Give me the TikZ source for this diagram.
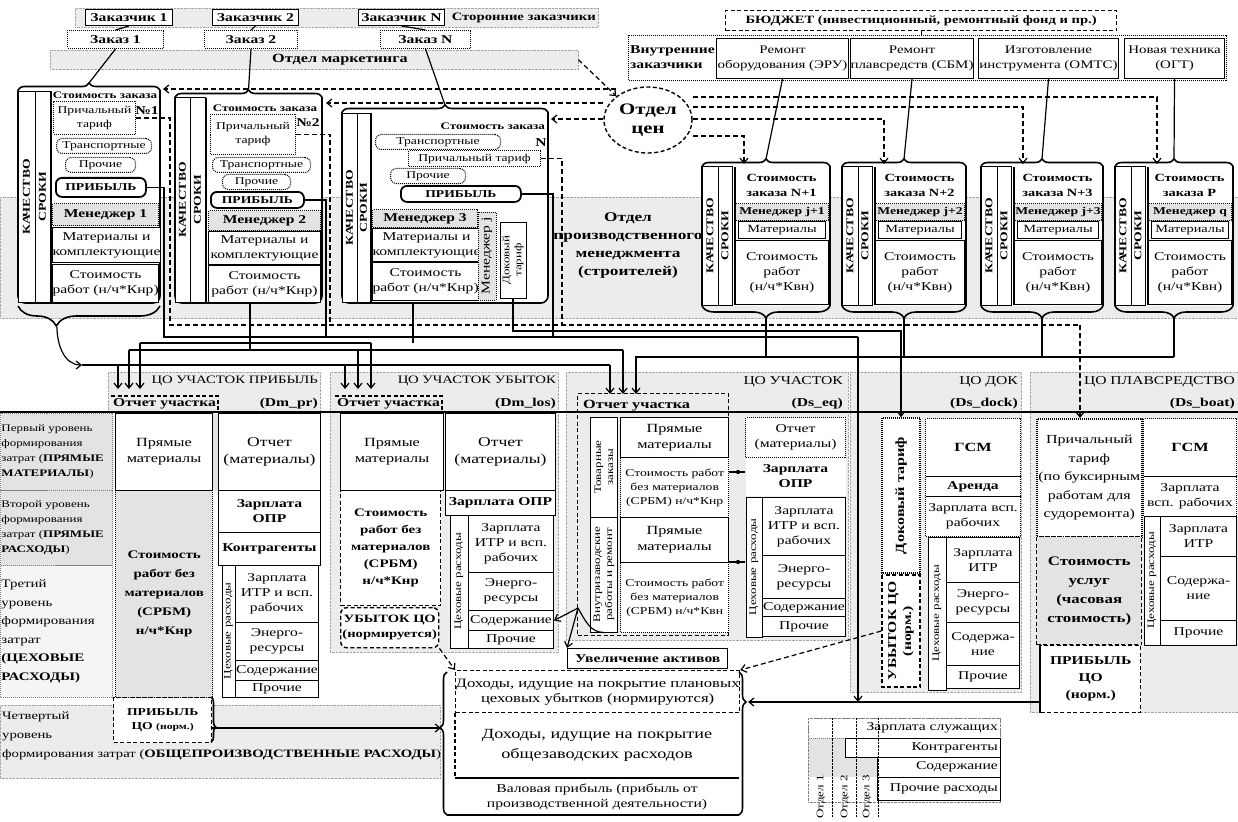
\documentclass[tikz,border=0pt]{standalone}
\usepackage{fontspec}
\setmainfont{Liberation Serif}[FakeStretch=1.3]
\usetikzlibrary{arrows.meta,positioning,shapes.geometric,decorations.pathreplacing,calc}
\newcommand{\fN}{\fontsize{12.5}{16}\selectfont}
\newcommand{\fS}{\fontsize{12}{15}\selectfont}
\newcommand{\fM}{\fontsize{10.5}{14}\selectfont}
\newcommand{\fT}{\fontsize{10}{12}\selectfont}
\newcommand{\fL}{\fontsize{16}{19}\selectfont}
\tikzset{
  cell/.style={draw, fill=white, line width=1pt, anchor=north west,
    inner sep=0pt, align=center, font=\fS},
  gcell/.style={cell, fill=gray!22},
  vcell/.style={draw, fill=white, line width=1pt, rotate=90, anchor=center,
    inner sep=0pt, align=center, font=\fT},
  sz/.style 2 args={minimum width=#1pt, minimum height=#2pt},
  band/.style={draw=gray!70, densely dotted, fill=gray!15, anchor=north west, inner sep=0pt},
  dotbox/.style={densely dotted},
  dashbox/.style={dash pattern=on 4pt off 2.5pt},
  pill/.style={rounded corners=6pt},
  thk/.style={line width=1.8pt},
  lbl/.style={inner sep=0pt, align=center, font=\fS},
  conn/.style={line width=1.2pt},
  dconn/.style={line width=1.2pt, dash pattern=on 5pt off 3pt},
  arr/.style={-{Straight Barb[length=5pt,width=8pt]}},
  brc/.style={line width=1.6pt, decorate, decoration={brace, amplitude=#1pt}},
  brc/.default=7,
}
\begin{document}
\begin{tikzpicture}[x=1pt, y=-1pt]
\useasboundingbox (0,0) rectangle (1238,821);

% Background bands
\node[band, sz={1238}{121}] (pmband) at (0,197) {};
\node[lbl, font=\fontsize{13.3}{18}\selectfont\bfseries] (pmlab) at (628,246) {Отдел\\производственного\\менеджмента\\(строителей)};
\node[band, sz={523}{19}] (extc) at (75,8) {};
\node[band, sz={528}{19}] (mkt) at (50,50) {};
\node[band, sz={228}{280}] (gLO) at (330,372) {};
\node[band, sz={282}{268}] (gEQ) at (566,372) {};
\node[band, sz={171}{320}] (gDK) at (850,372) {};
\node[band, sz={208}{340}] (gPL) at (1030,372) {};
\node[band, sz={212}{40}] (hPR) at (108,372) {};
\node[band, sz={440}{73}] (lv4) at (0,705) {};

% Customers
\node[lbl, font=\fontsize{11.3}{14}\selectfont\bfseries, anchor=east] (extlab) at (596,17.5) {Сторонние заказчики};
\node[cell, font=\fontsize{12}{15}\selectfont\bfseries, sz={87}{16}] (zk1) at (85,9) {Заказчик 1};
\node[cell, font=\fontsize{12}{15}\selectfont\bfseries, sz={86}{16}] (zk2) at (212,9) {Заказчик 2};
\node[cell, font=\fontsize{12}{15}\selectfont\bfseries, sz={86}{16}] (zkN) at (358,9) {Заказчик N};
\node[cell, dotbox, font=\fS\bfseries, sz={96}{18}] (z1) at (67,30) {Заказ 1};
\node[cell, dotbox, font=\fS\bfseries, sz={93}{18}] (z2) at (204,30) {Заказ 2};
\node[cell, dotbox, font=\fS\bfseries, sz={90}{18}] (zN) at (380,30) {Заказ N};
\node[lbl, font=\fN\bfseries] (mktlab) at (340,59.5) {Отдел маркетинга};

\node[cell, dashbox, line width=1.2pt, font=\fontsize{11.2}{14}\selectfont\bfseries, sz={391}{20}] (bud) at (725,10) {БЮДЖЕТ (инвестиционный, ремонтный фонд и пр.)};
\node[cell, dotbox, line width=1.2pt, sz={598}{45}] (intc) at (628,35) {};
\node[lbl, font=\fS\bfseries, align=left, anchor=west] (intlab) at (630,57) {Внутренние\\заказчики};
\node[cell, font=\fontsize{11.5}{15}\selectfont, sz={132}{40}] (c1) at (716,38) {Ремонт\\оборудования (ЭРУ)};
\node[cell, font=\fontsize{11.5}{15}\selectfont, sz={122}{40}] (c2) at (850,38) {Ремонт\\плавсредств (СБМ)};
\node[cell, font=\fontsize{11.5}{15}\selectfont, sz={140}{40}] (c3) at (978,38) {Изготовление\\инструмента (ОМТС)};
\node[cell, font=\fontsize{11.5}{15}\selectfont, sz={100}{40}] (c4) at (1124,38) {Новая техника\\(ОГТ)};
\node[ellipse, draw, dashbox, line width=1.4pt, fill=white, minimum width=88pt, minimum height=66pt,
  inner sep=0pt, align=center, font=\fL\bfseries] (price) at (648,120) {Отдел\\цен};

% Order 1
\fill[white] (18,90) rectangle (160,303);
\draw[line width=1.6pt, rounded corners=7pt] (18,90) -- (18,303) -- (160,303) -- (160,90);
\draw[brc] (18,90) -- (160,90);
\coordinate (t1) at (89,83);
\node[vcell, sz={211}{17}, font=\fontsize{10.5}{12}\selectfont\bfseries] (q1) at (26.5,197) {КАЧЕСТВО};
\node[vcell, sz={211}{15}, font=\fontsize{10.5}{12}\selectfont\bfseries] (s1) at (42.5,197) {СРОКИ};
\draw[thk] (51,91) -- (51,302);
\node[lbl, font=\fT\bfseries] (sz1) at (105,95) {Стоимость заказа};
\node[cell, dotbox, font=\fM, sz={82}{33}] (pt1) at (53,101) {Причальный\\тариф};
\node[lbl, font=\fS\bfseries] (n1) at (147,111) {№1};
\node[cell, dotbox, pill, font=\fM, sz={95}{15}] (tr1) at (56,138) {Транспортные};
\node[cell, dotbox, pill, font=\fM, sz={70}{15}] (pr1) at (65,157) {Прочие};
\node[cell, thk, pill, sz={90}{19}, font=\fM\bfseries] (pf1) at (55,177) {ПРИБЫЛЬ};
\node[gcell, dotbox, sz={106}{22}, font=\fS\bfseries] (mg1) at (52,203) {Менеджер 1};
\node[cell, sz={106}{35}] (mt1) at (52,227) {Материалы и\\комплектующие};
\node[cell, sz={106}{38}] (sw1) at (52,264) {Стоимость\\работ (н/ч*Кнр)};
\draw[brc=20, decoration={aspect=0.73}] (160,306) -- (18,306);
\coordinate (b1b) at (57,327);

% Order 2
\fill[white] (175,97) rectangle (322,303);
\draw[line width=1.6pt, rounded corners=7pt] (175,97) -- (175,303) -- (322,303) -- (322,97);
\draw[brc] (175,97) -- (322,97);
\coordinate (t2) at (248.5,90);
\node[vcell, sz={204}{15}, font=\fontsize{10.5}{12}\selectfont\bfseries] (q2) at (182.5,200) {КАЧЕСТВО};
\node[vcell, sz={204}{15}, font=\fontsize{10.5}{12}\selectfont\bfseries] (s2) at (197.5,200) {СРОКИ};
\draw[thk] (206,98) -- (206,302);
\node[lbl, font=\fT\bfseries] (sz2) at (265,108) {Стоимость заказа};
\node[cell, dotbox, font=\fM, sz={85}{40}] (pt2) at (210,114) {Причальный\\тариф};
\node[lbl, font=\fS\bfseries] (n2) at (308,123) {№2};
\node[cell, dotbox, pill, font=\fM, sz={98}{15}] (tr2) at (212,157) {Транспортные};
\node[cell, dotbox, pill, font=\fM, sz={68}{15}] (pr2) at (222,174) {Прочие};
\node[cell, thk, pill, sz={93}{16}, font=\fM\bfseries] (pf2) at (210,191) {ПРИБЫЛЬ};
\node[gcell, dotbox, sz={112}{20}, font=\fS\bfseries] (mg2) at (208,210) {Менеджер 2};
\node[cell, sz={112}{33}] (mt2) at (208,231) {Материалы и\\комплектующие};
\node[cell, sz={112}{37}] (sw2) at (208,265) {Стоимость\\работ (н/ч*Кнр)};
\coordinate (b2b) at (250,303);

% Order N
\fill[white] (342,112) rectangle (548,303);
\draw[line width=1.6pt, rounded corners=7pt] (342,112) -- (342,303) -- (548,303) -- (548,112);
\draw[brc] (342,112) -- (548,112);
\coordinate (t3) at (445,105);
\node[vcell, sz={189}{15}, font=\fontsize{10.5}{12}\selectfont\bfseries] (q3) at (349.5,208) {КАЧЕСТВО};
\node[vcell, sz={189}{13}, font=\fontsize{10.5}{12}\selectfont\bfseries] (s3) at (363.5,208) {СРОКИ};
\draw[thk] (371,113) -- (371,302);
\node[lbl, font=\fT\bfseries, anchor=east] (sz3) at (545,126) {Стоимость заказа};
\node[cell, dotbox, pill, font=\fM, sz={125}{15}] (tr3) at (375,134) {Транспортные};
\node[lbl, font=\fS\bfseries] (n3) at (541,143) {N};
\node[cell, dotbox, font=\fM, sz={132}{16}] (pt3) at (408,150) {Причальный тариф};
\node[cell, dotbox, pill, font=\fM, sz={75}{15}] (pr3) at (390,168) {Прочие};
\node[cell, thk, pill, sz={120}{16}, font=\fM\bfseries] (pf3) at (400,185) {ПРИБЫЛЬ};
\node[gcell, dotbox, sz={105}{18}, font=\fS\bfseries] (mg3) at (372,209) {Менеджер 3};
\node[cell, sz={105}{33}] (mt3) at (372,228) {Материалы и\\комплектующие};
\node[cell, sz={105}{38}] (sw3) at (372,262) {Стоимость\\работ (н/ч*Кнр)};
\node[vcell, fill=gray!22, dotbox, sz={88}{18}, font=\fS] (mgj) at (487,256) {Менеджер j};
\node[vcell, sz={76}{26}, font=\fT] (dk3) at (513,260) {Доковый\\тариф};
\coordinate (b3b) at (413,303);

% Internal orders
\foreach \xl/\xr/\nm/\mg/\yd/\i in {702/830/N+1/j+1/136/1, 842/966/N+2/j+2/119/2,
    981/1103/N+3/j+3/107/3, 1115/1233/P/q/97/4}{
  \pgfmathsetmacro\xc{(\xl+\xr)/2}
  \pgfmathsetmacro\cw{\xr-\xl-35}
  \pgfmathsetmacro\cwm{\cw-6}
  \pgfmathsetmacro\cx{\xl+33}
  \fill[white] (\xl,166) rectangle (\xr,306);
  \draw[line width=1.6pt] (\xl,166) -- (\xl,306) (\xr,166) -- (\xr,306);
  \draw[brc] (\xl,166) -- (\xr,166);
  \draw[brc=12] (\xr,306) -- (\xl,306);
  \coordinate (ot\i) at (\xc,159);
  \coordinate (ob\i) at (\xc,318);
  \coordinate (od\i) at (\xl+42,164);
  \coordinate (oy\i) at (0,\yd);
  \node[vcell, sz={138}{16}, font=\fontsize{10.5}{12}\selectfont\bfseries] (oq\i) at (\xl+8,236) {КАЧЕСТВО};
  \node[vcell, sz={138}{14}, font=\fontsize{10.5}{12}\selectfont\bfseries] (os\i) at (\xl+23,236) {СРОКИ};
  \draw[thk] (\cx,167) -- (\cx,305);
  \node[lbl, font=\fontsize{11}{15}\selectfont\bfseries] (on\i) at (\cx+\cw/2,185) {Стоимость\\заказа \nm};
  \node[gcell, dotbox, sz={\cw}{17}, font=\fM\bfseries] (om\i) at (\cx,203) {Менеджер \mg};
  \node[cell, sz={\cwm}{17}, font=\fontsize{11}{14}\selectfont] (oma\i) at (\cx+3,221) {Материалы};
  \node[cell, sz={\cw}{64}] (ow\i) at (\cx,240) {Стоимость\\работ\\(н/ч*Квн)};
  \draw[conn] (c\i.south) -- (ot\i);
  \draw[dconn, arr] (price.east |- oy\i) -| (od\i);
}

% Cost centre headers
\node[lbl, font=\fontsize{11.3}{14}\selectfont, anchor=north east] (hPRt) at (318,376) {ЦО УЧАСТОК ПРИБЫЛЬ};
\node[lbl, font=\fS\bfseries, anchor=south east] (hPRd) at (318,409) {(Dm\_pr)};
\node[lbl, font=\fS\bfseries, anchor=south west, inner sep=2pt] (oPR) at (111,411) {Отчет участка};
\node[lbl, font=\fontsize{11.3}{14}\selectfont, anchor=north east] (hLOt) at (556,376) {ЦО УЧАСТОК УБЫТОК};
\node[lbl, font=\fS\bfseries, anchor=south east] (hLOd) at (556,409) {(Dm\_los)};
\node[lbl, font=\fS\bfseries, anchor=south west, inner sep=2pt] (oLO) at (335,411) {Отчет участка};
\node[lbl, anchor=north east] (hEQt) at (843,376) {ЦО УЧАСТОК};
\node[lbl, font=\fS\bfseries, anchor=south east] (hEQd) at (843,409) {(Ds\_eq)};
\node[lbl, anchor=north east] (hDKt) at (1018,376) {ЦО ДОК};
\node[lbl, font=\fS\bfseries, anchor=south east] (hDKd) at (1018,409) {(Ds\_dock)};
\node[lbl, anchor=north east] (hPLt) at (1235,376) {ЦО ПЛАВСРЕДСТВО};
\node[lbl, font=\fS\bfseries, anchor=south east] (hPLd) at (1235,409) {(Ds\_boat)};
\draw[dashbox, line width=1.2pt] (oPR.north west) -- (oPR.north east) -- (oPR.south east);
\draw[dashbox, line width=1.2pt] (oLO.north west) -- (oLO.north east) -- (oLO.south east);
\draw[line width=2.2pt] (0,412) -- (1238,412);

% Levels
\node[gcell, dotbox, draw=gray, sz={112}{77}, align=left, text width=110pt, inner xsep=1pt,
  font=\fontsize{10}{15}\selectfont] (lv1) at (0,413) {Первый уровень\\формирования\\затрат ({\bfseries ПРЯМЫЕ}\\{\bfseries МАТЕРИАЛЫ})};
\node[gcell, dotbox, draw=gray, sz={112}{75}, align=left, text width=110pt, inner xsep=1pt,
  font=\fontsize{10}{15}\selectfont] (lv2) at (0,490) {Второй уровень\\формирования\\затрат ({\bfseries ПРЯМЫЕ}\\{\bfseries РАСХОДЫ})};
\node[gcell, dotbox, draw=gray, fill=gray!8, sz={112}{132}, align=left, text width=110pt, inner xsep=1pt,
  font=\fontsize{11.5}{18.5}\selectfont] (lv3) at (0,565) {Третий\\уровень\\формирования\\затрат\\{\bfseries (ЦЕХОВЫЕ}\\{\bfseries РАСХОДЫ)}};
\node[lbl, anchor=north west, align=left, font=\fontsize{11.3}{19}\selectfont] (lv4t) at (2,712) {Четвертый\\уровень\\формирования затрат ({\bfseries ОБЩЕПРОИЗВОДСТВЕННЫЕ РАСХОДЫ})};

% CO profit
\node[cell, sz={97}{77}, font=\fN] (pPM) at (115,413) {Прямые\\материалы};
\node[gcell, draw=none, sz={6}{77}] (pGS) at (212,413) {};
\node[cell, sz={102}{77}, font=\fontsize{13.5}{17}\selectfont] (pOM) at (218,413) {Отчет\\(материалы)};
\node[gcell, dotbox, line width=1.4pt, sz={97}{207}, font=\fontsize{11.5}{19}\selectfont\bfseries] (pSR) at (115,490) {Стоимость\\работ без\\материалов\\(СРБМ)\\н/ч*Кнр};
\node[cell, sz={102}{42}, font=\fS\bfseries] (pZO) at (218,490) {Зарплата\\ОПР};
\node[cell, sz={102}{33}, font=\fS\bfseries] (pKA) at (218,532) {Контрагенты};
\node[vcell, sz={132}{13}] (pCR) at (228.5,631) {Цеховые расходы};
\node[cell, sz={83}{57}] (pZI) at (235,565) {Зарплата\\ИТР и всп.\\рабочих};
\node[cell, sz={83}{38}] (pER) at (235,622) {Энерго-\\ресурсы};
\node[cell, sz={83}{20}] (pSD) at (235,660) {Содержание};
\node[cell, sz={83}{17}] (pPR) at (235,680) {Прочие};
\node[cell, dashbox, line width=1.4pt, sz={98}{45}, font=\fM\bfseries] (pPF) at (113,697) {ПРИБЫЛЬ\\ЦО {\fontsize{9}{11}\selectfont(норм.)}};

% CO loss
\node[cell, sz={103}{77}, font=\fN] (lPM) at (340,413) {Прямые\\материалы};
\node[cell, sz={110}{77}, font=\fontsize{13.5}{17}\selectfont] (lOM) at (445,413) {Отчет\\(материалы)};
\node[cell, dashbox, line width=1.4pt, sz={100}{115}, font=\fontsize{11.5}{17}\selectfont\bfseries] (lSR) at (340,490) {Стоимость\\работ без\\материалов\\(СРБМ)\\н/ч*Кнр};
\node[cell, dashbox, line width=1.4pt, pill, sz={98}{40}, font=\fontsize{11.2}{15}\selectfont\bfseries] (lUB) at (340,607) {УБЫТОК ЦО\\(нормируется)};
\node[cell, sz={110}{25}, font=\fS\bfseries] (lZO) at (445,490) {Зарплата ОПР};
\node[vcell, sz={133}{18}] (lCR) at (459,581.5) {Цеховые расходы};
\node[cell, sz={85}{57}] (lZI) at (468,515) {Зарплата\\ИТР и всп.\\рабочих};
\node[cell, sz={85}{38}] (lER) at (468,572) {Энерго-\\ресурсы};
\node[cell, sz={85}{20}] (lSD) at (468,610) {Содержание};
\node[cell, sz={85}{18}] (lPR) at (468,630) {Прочие};

% CO section
\node[draw, dashbox, line width=1.4pt, anchor=north west, inner sep=0pt, sz={151}{242}] (oEQbox) at (577,393) {};
\node[lbl, font=\fN\bfseries, anchor=south west] (oEQ) at (583,411) {Отчет участка};
\node[vcell, sz={100}{27}] (eTZ) at (604,467) {Товарные\\заказы};
\node[vcell, sz={115}{27}] (eVR) at (604,574.5) {Внутризаводские\\работы и ремонт};
\node[cell, sz={108}{40}, font=\fN] (ePM1) at (620,417) {Прямые\\материалы};
\node[cell, dotbox, line width=1.4pt, font=\fM, sz={108}{60}] (eSR1) at (620,457) {Стоимость работ\\без материалов\\(СРБМ) н/ч*Кнр};
\node[cell, sz={108}{45}, font=\fN] (ePM2) at (620,517) {Прямые\\материалы};
\node[cell, dotbox, line width=1.4pt, font=\fM, sz={108}{70}] (eSR2) at (620,562) {Стоимость работ\\без материалов\\(СРБМ) н/ч*Квн};
\node[cell, dotbox, sz={100}{40}] (eOM) at (745,417) {Отчет\\(материалы)};
\node[cell, draw=none, sz={100}{38}, font=\fS\bfseries] (eZO) at (745,457) {Зарплата\\ОПР};
\node[vcell, sz={140}{16}] (eCR) at (754,567) {Цеховые расходы};
\node[cell, sz={83}{58}] (eZI) at (762,497) {Зарплата\\ИТР и всп.\\рабочих};
\node[cell, sz={83}{43}] (eER) at (762,555) {Энерго-\\ресурсы};
\node[cell, sz={83}{18}] (eSD) at (762,598) {Содержание};
\node[cell, sz={83}{20}] (ePR) at (762,616) {Прочие};
\node[circle, fill, inner sep=1.5pt] (dt1) at (738,472) {};
\node[circle, fill, inner sep=1.5pt] (dt2) at (738,562) {};
\node[cell, line width=1.4pt, sz={160}{20}, font=\fS\bfseries] (uva) at (567,648) {Увеличение активов};
\coordinate (jn) at (578,608);

% CO dock
\node[vcell, dotbox, line width=1.6pt, sz={155}{38}, font=\fN\bfseries] (dDT) at (901,495.5) {Доковый тариф};
\node[vcell, dashbox, line width=1.4pt, sz={112}{38}, font=\fS\bfseries] (dUB) at (901,631) {УБЫТОК ЦО\\(норм.)};
\node[cell, dotbox, sz={95}{58}, font=\fN\bfseries] (dGS) at (925,418) {ГСМ};
\node[cell, dotbox, sz={95}{20}, font=\fS\bfseries] (dAR) at (925,476) {Аренда};
\node[cell, dotbox, sz={95}{40}] (dZV) at (925,496) {Зарплата всп.\\рабочих};
\node[vcell, sz={153}{18}] (dCR) at (937,613.5) {Цеховые расходы};
\node[cell, sz={73}{45}] (dZI) at (946,537) {Зарплата\\ИТР};
\node[cell, sz={73}{40}] (dER) at (946,582) {Энерго-\\ресурсы};
\node[cell, sz={73}{43}] (dSD) at (946,622) {Содержа-\\ние};
\node[cell, sz={73}{23}] (dPR) at (946,665) {Прочие};

% CO boats
\node[cell, dotbox, line width=1.6pt, sz={105}{118}, font=\fontsize{12.3}{18.5}\selectfont] (bPT) at (1036,418) {Причальный\\тариф\\(по буксирным\\работам для\\судоремонта)};
\node[gcell, dashbox, line width=1.4pt, sz={105}{108}, font=\fontsize{13}{19}\selectfont\bfseries] (bSU) at (1036,536) {Стоимость\\услуг\\(часовая\\стоимость)};
\node[cell, dashbox, line width=1.4pt, sz={100}{67}, font=\fontsize{12}{17}\selectfont\bfseries] (bPF) at (1040,645) {ПРИБЫЛЬ\\ЦО\\(норм.)};
\draw[thk] (bPF.north west) -- (bPF.south west);
\node[cell, dotbox, sz={93}{58}, font=\fN\bfseries] (bGS) at (1143,418) {ГСМ};
\node[cell, dotbox, sz={93}{40}] (bZV) at (1143,476) {Зарплата\\всп. рабочих};
\node[vcell, sz={129}{16}] (bCR) at (1152,580.5) {Цеховые расходы};
\node[cell, sz={76}{40}] (bZI) at (1160,516) {Зарплата\\ИТР};
\node[cell, sz={76}{64}] (bSD) at (1160,556) {Содержа-\\ние};
\node[cell, sz={76}{25}] (bPR) at (1160,620) {Прочие};

% Revenue
\node[cell, dashbox, line width=1.4pt, sz={283}{42}, font=\fontsize{12.8}{15}\selectfont] (rv1) at (455,670) {Доходы, идущие на покрытие плановых\\цеховых убытков (нормируются)};
\node[cell, draw=none, sz={283}{65}, font=\fontsize{14}{20}\selectfont] (rv2) at (455,712) {Доходы, идущие на покрытие\\общезаводских расходов};
\node[cell, draw=none, sz={283}{37}, font=\fS] (rv3) at (455,778) {Валовая прибыль (прибыль от\\производственной деятельности)};
\draw[line width=1.2pt] (rv3.north west) -- (rv3.north east);
\draw[dashbox, line width=1.2pt] (rv1.south west) -- (rv3.north west);
\draw[brc=7, decoration={aspect=0.61}] (447,815) -- (447,672);
\draw[brc=7, decoration={aspect=0.21}] (739,672) -- (739,815);
\draw[line width=1.6pt] (447,815) -- (739,815);
\draw[brc=5, decoration={aspect=0.67}] (211,697) -- (211,742);
\coordinate (lin) at (441,728);
\coordinate (rin) at (748,702);

% Departments
\fill[gray!22] (808,738) rectangle (845,757);
\fill[gray!22] (808,757) rectangle (877,777);
\node[draw=gray, densely dotted, anchor=north west, inner sep=0pt, sz={192}{84}] (leg) at (808,718) {};
\node[cell, dotbox, draw=gray, fill=none, sz={192}{20}] (lgA) at (808,718) {};
\node[cell, fill=none, sz={155}{19}] (lgB) at (845,738) {};
\node[cell, fill=none, line width=1.4pt, sz={123}{20}] (lgC) at (877,757) {};
\node[cell, fill=none, sz={123}{23}] (lgD) at (877,777) {};
\node[lbl, anchor=east] (lgAt) at (998,728) {Зарплата служащих};
\node[lbl, anchor=east] (lgBt) at (998,747.5) {Контрагенты};
\node[lbl, anchor=east] (lgCt) at (998,767) {Содержание};
\node[lbl, anchor=east] (lgDt) at (998,788.5) {Прочие расходы};
\foreach \x/\k in {821/1, 845/2, 867/3}{
  \draw[densely dotted] (\x+11,718) -- (\x+11,817);
  \node[lbl, rotate=90, font=\fT] (lgo\k) at (\x,797) {Отдел \k};
}

% Connectors: orders
\draw[conn] (z1.south) -- (t1);
\draw[conn] (z2.south) -- (t2);
\draw[conn] (zN.south) -- (t3);
\draw[conn] (zk1.south) -- (z1.north);
\draw[conn] (zk2.south) -- (z2.north);
\draw[conn] (zkN.south) -- (zN.north);
\draw[conn] (bud.south) -- (intc.north -| bud.south);

% Connectors: price department
\coordinate (b1in) at (163,89);
\coordinate (b2in) at (326,103);
\coordinate (b3in) at (551,119);
\draw[dconn, arr] (mkt.east) -- (price.north west);
\draw[dconn, arr] (price.north west |- b1in) -- (b1in);
\draw[dconn, arr] (price.west |- b2in) -- (b2in);
\draw[dconn, arr] (price.west |- b3in) -- (b3in);

% Connectors: berth tariff (dashed bus)
\coordinate (pb1) at (170,325);
\coordinate (pb2) at (330,325);
\coordinate (pb3) at (562,325);
\coordinate (pbus) at (1080,325);
\draw[dconn] (pt1.east) -| (pb1) -- (pbus);
\draw[dconn] (pt2.east) -| (pb2);
\draw[dconn] (pt3.east) -| (pb3);
\draw[dconn, arr] (pbus) -- (pbus |- bPT.north);

% Connectors: dock tariff
\coordinate (dbus) at (0,331);
\draw[conn, arr] (dk3.west) |- (dDT.east |- dbus) -- (dDT.east);

% Connectors: profit
\coordinate (qb1) at (164,337);
\coordinate (qb2) at (326,337);
\coordinate (qb3) at (553,337);
\coordinate (qbus) at (858,337);
\draw[conn] (pf1.east) -| (qb1) -- (qbus);
\draw[conn] (pf2.east) -| (qb2);
\draw[conn] (pf3.east) -| (qb3);
\draw[conn, arr] (qbus) -- (qbus |- rin);
\draw[conn, arr] (bPF.west |- rin) -- (rin);
\draw[conn, arr] (pPF.east |- lin) -- (lin);

% Connectors: work cost to reports
\coordinate (rp1) at (118,389);
\coordinate (rp2) at (129,389);
\coordinate (rp3) at (140,389);
\coordinate (rl1) at (345,389);
\coordinate (rl2) at (358,389);
\coordinate (rl3) at (371,389);
\coordinate (re1) at (610,394);
\coordinate (re2) at (623,394);
\coordinate (re3) at (636,394);
\coordinate (cb1) at (82,365);
\coordinate (cb2) at (0,350);
\coordinate (cb3) at (0,343);
\coordinate (rb) at (0,357);
\draw[conn, arr] (b1b) to[out=-90, in=180] (cb1);
\draw[conn] (cb1) -- (cb1 -| re1);
\foreach \t in {rp1, rl1, re1} \draw[conn, arr] (cb1 -| \t) -- (\t);
\draw[conn] (b2b) -- (b2b |- cb2);
\draw[conn] (rp2 |- cb2) -- (re2 |- cb2);
\foreach \t in {rp2, rl2, re2} \draw[conn, arr] (\t |- cb2) -- (\t);
\draw[conn] (b3b) -- (b3b |- cb3);
\draw[conn] (rp3 |- cb3) -- (rl3 |- cb3);
\foreach \t in {rp3, rl3} \draw[conn, arr] (\t |- cb3) -- (\t);
\foreach \i in {1,...,4} \draw[conn] (ob\i) -- (ob\i |- rb);
\draw[conn, arr] (ob4 |- rb) -| (re3);

% Connectors: section internals
\draw[conn] (eSR1.east |- dt1) -- (dt1) -- (eZO.west |- dt1);
\draw[conn] (eSR2.east |- dt2) -- (dt2) -- (eOM.west |- dt2);
\draw[conn] (eVR.west) to[out=180, in=-60] (jn);
\draw[conn, arr] (jn) -- (lSD.east);
\draw[conn, arr] (jn) -- (uva.north west);
\draw[dconn, arr] (lUB.south east) -- (rv1.north west);
\draw[dconn, arr] (dUB.north) -- (rv1.north east);
\end{tikzpicture}
\end{document}
